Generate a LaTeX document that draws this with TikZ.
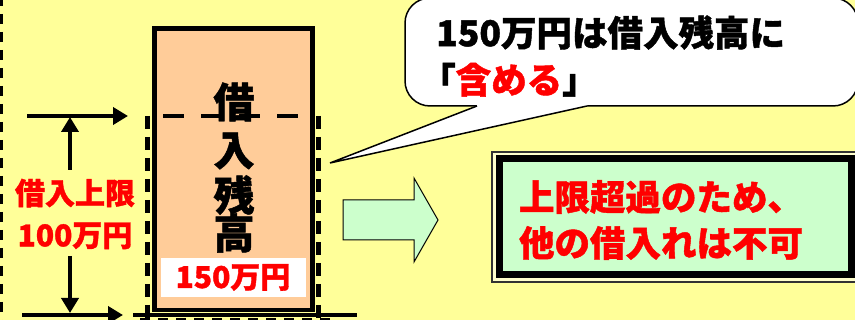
\documentclass[tikz,border=0pt]{standalone}
\usepackage{fontspec}
\newfontfamily\jp{Noto Sans CJK JP}[BoldFeatures={FakeBold=1.2}]
\usetikzlibrary{arrows.meta}
\definecolor{bgyellow}{HTML}{FFFF99}
\definecolor{boxorange}{HTML}{FFCC99}
\definecolor{palegreen}{HTML}{CCFFCC}
\definecolor{jred}{HTML}{FF0000}
\definecolor{paleyellow}{HTML}{FFFFCC}
\tikzset{
  arr/.style={line width=4pt,-{Triangle[length=15pt,width=17pt]}},
  thickdash/.style={line width=5pt,dash pattern=on 13pt off 8pt},
  big/.style={font=\jp\bfseries\fontsize{41}{43}\selectfont},
  mid/.style={font=\jp\bfseries\fontsize{30}{42}\selectfont},
  bub/.style={font=\jp\bfseries\fontsize{35.5}{47}\selectfont},
  res/.style={font=\jp\bfseries\fontsize{35.5}{46}\selectfont},
}
\begin{document}
\begin{tikzpicture}[x=1pt,y=-1pt]
\clip (0,0) rectangle (855,320);
\fill[bgyellow] (0,0) rectangle (855,320);
% left dashed border
\draw[line width=3pt,dash pattern=on 10pt off 8pt] (1.5,-4) -- (1.5,320);
% dashed limit frame
\draw[thickdash] (147,116) -- (147,320);
\draw[thickdash] (318,116) -- (318,320);
\draw[line width=4pt] (133,315) -- (357,315);
\draw[line width=4pt,dash pattern=on 10pt off 8pt] (140,320) -- (330,320);
% balance box
\node (bal) [draw,line width=4.5pt,fill=boxorange,minimum width=158pt,minimum height=281.5pt,inner sep=0pt] at (233.5,169.25) {};
\draw[line width=4pt,dash pattern=on 21pt off 17pt] (163,116) -- (300,116);
\node (c1) [big] at (234,102) {借};
\node (c2) [big] at (234,151) {入};
\node (c3) [big] at (234,195) {残};
\node (c4) [big] at (234,233) {高};
\node (amt) [fill=white,minimum width=145pt,minimum height=39pt,text=jred,mid] at (233,277.5) {150万円};
% limit arrows
\coordinate (ta0) at (27,116);
\coordinate (ta1) at (128,116);
\coordinate (ba0) at (22,315);
\coordinate (ba1) at (123,315);
\draw[arr] (ta0) -- (ta1);
\draw[arr] (ba0) -- (ba1);
\node (lim) [mid,text=jred,align=center] at (75,214) {借入上限\\100万円};
\coordinate (vt0) at (70,170);
\coordinate (vt1) at (70,117);
\coordinate (vb0) at (70,256);
\coordinate (vb1) at (70,313);
\draw[arr] (vt0) -- (vt1);
\draw[arr] (vb0) -- (vb1);
% speech bubble
\draw[line width=1.5pt,fill=white,rounded corners=25pt] (405,-2) rectangle (858,106);
\coordinate (tip) at (330,163);
\fill[white] (477,106) -- (tip) -- (587,106) -- (587,103) -- (477,103) -- cycle;
\draw[line width=1.5pt,line join=miter] (477,106) -- (tip) -- (587,106);
\node (bt) [bub,align=left,anchor=west,inner sep=0pt] at (436,56) {150万円は借入残高に\\\hspace*{-0.45em}「\textcolor{jred}{含める}」};
% block arrow
\draw[line width=1pt,fill=palegreen] (343,200) -- (414,200) -- (414,178) -- (438,220) -- (414,262) -- (414,240) -- (343,240) -- cycle;
% result box
\draw[line width=1.5pt,draw=black!80,fill=paleyellow] (492,152) rectangle (870,282);
\node (box) [draw,line width=7pt,fill=palegreen,minimum width=352.5pt,minimum height=116.5pt,inner sep=0pt] at (675.25,216.75) {};
\node (msg) [res,text=jred,align=left] at (661,220) {上限超過のため、\\他の借入れは不可};
\end{tikzpicture}
\end{document}
